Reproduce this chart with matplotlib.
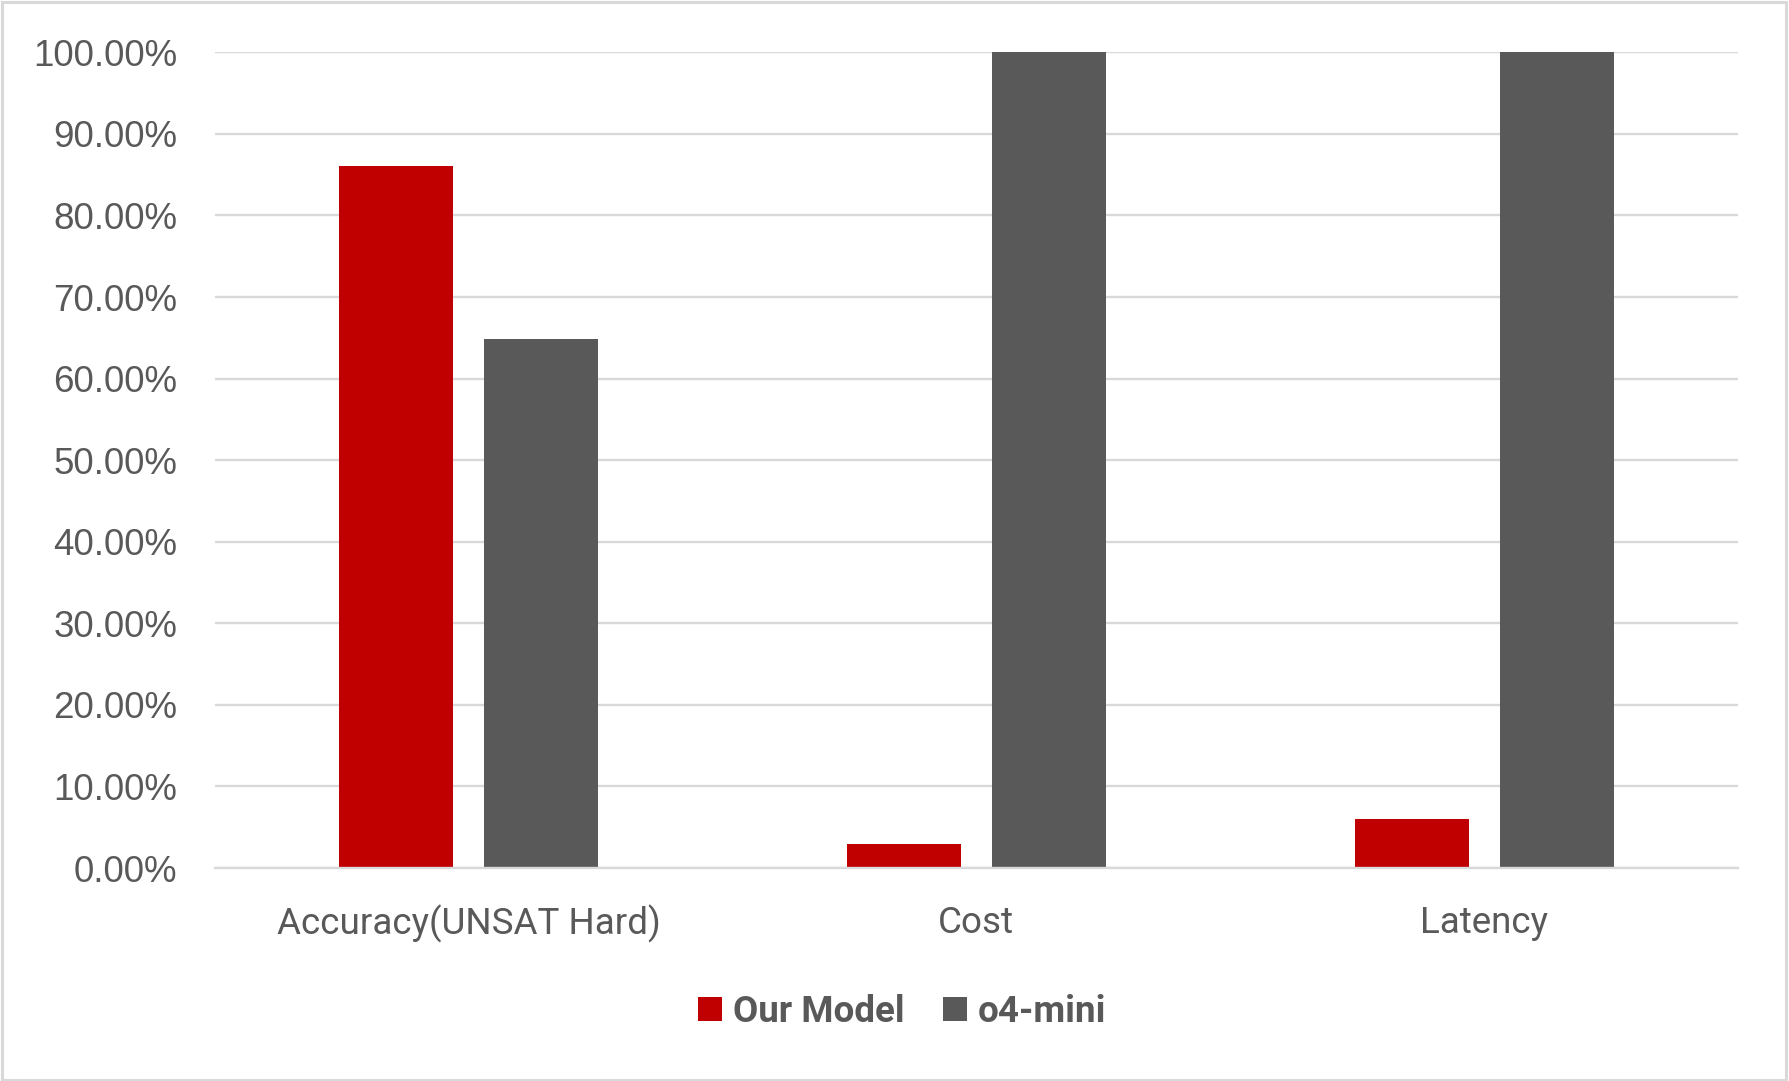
import matplotlib.pyplot as plt
import numpy as np
from matplotlib.patches import Rectangle
from matplotlib.ticker import FuncFormatter

categorias = ['Accuracy(UNSAT Hard)', 'Cost', 'Latency']
our_model = [86.1, 2.9, 6.0]
o4_mini = [64.9, 100.0, 100.0]
series = ['Our Model', 'o4-mini']

rojo = '#C00000'
gris = '#595959'
texto = '#595959'
rejilla = '#D9D9D9'

fig = plt.figure(figsize=(17.9, 10.81), dpi=100)
ax = fig.add_axes([0.1199, 0.197, 0.8511, 0.7546])

x = np.arange(len(categorias))
ancho = 0.2245
ax.bar(x - 0.1425, our_model, ancho, color=rojo, label=series[0], zorder=3)
ax.bar(x + 0.1425, o4_mini, ancho, color=gris, label=series[1], zorder=3)

ax.set_xlim(-0.5, 2.5)
ax.set_ylim(0, 100)
ax.set_yticks(np.arange(0, 101, 10))
ax.yaxis.set_major_formatter(FuncFormatter(lambda v, p: '%.2f%%' % v))
ax.grid(axis='y', color=rejilla, linewidth=1.7, zorder=0)
ax.set_axisbelow(True)
for s in ['top', 'right', 'left']:
    ax.spines[s].set_visible(False)
ax.spines['bottom'].set_color(rejilla)
ax.spines['bottom'].set_linewidth(1.7)
ax.spines['bottom'].set_zorder(4)

ax.tick_params(axis='y', length=0, pad=27, labelsize=26.5, labelcolor=texto)
for t in ax.get_yticklabels():
    t.set_fontfamily('Liberation Sans')
ax.set_xticks(x)
ax.set_xticklabels(categorias, fontfamily='Roboto', fontsize=26.5, color=texto)
ax.tick_params(axis='x', length=0, pad=26.5)

leg = fig.legend(loc='center', bbox_to_anchor=(0.504, 0.064), ncol=2, frameon=False,
                 handlelength=0.65, handleheight=0.65, handletextpad=0.3, columnspacing=1.05,
                 prop={'family': 'Roboto', 'weight': 'bold', 'size': 26.5})
for t in leg.get_texts():
    t.set_color(texto)

fig.patches.append(Rectangle((0.001, 0.001), 0.997, 0.997, transform=fig.transFigure,
                             fill=False, edgecolor=rejilla, linewidth=2.2))

plt.savefig('out.png', dpi=100, facecolor='white')
